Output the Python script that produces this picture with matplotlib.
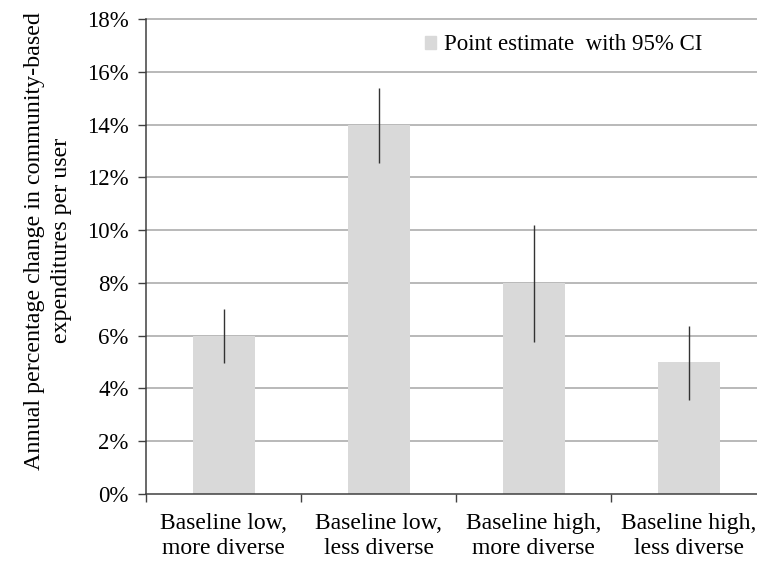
import matplotlib
matplotlib.use("Agg")
from matplotlib import pyplot as plt
from matplotlib.patches import Patch
from matplotlib.ticker import FuncFormatter, FixedLocator

# point estimates and 95% CI bounds (percent per year)
categories = ["Baseline low,\nmore diverse", "Baseline low,\nless diverse",
              "Baseline high,\nmore diverse", "Baseline high,\nless diverse"]
estimate = [6.0, 14.0, 8.0, 5.0]
ci_low = [4.95, 12.55, 5.75, 3.55]
ci_high = [7.0, 15.4, 10.2, 6.35]

plt.rcParams['font.family'] = ['Liberation Serif', 'DejaVu Serif']

fig = plt.figure(figsize=(7.57, 5.68), dpi=100)
# plot area runs slightly past the right edge of the figure
ax = fig.add_axes([146/757, 74/568, 620/757, 475/568])

xs = list(range(len(categories)))
ax.bar(xs, estimate, width=0.4, color="#d9d9d9", zorder=2)
ax.vlines(xs, ci_low, ci_high, color="#333333", linewidth=1.0, zorder=3)

ax.set_xlim(-0.5, 3.5)
ax.set_ylim(0, 18)
ax.set_yticks(range(0, 19, 2))
ax.yaxis.set_major_formatter(FuncFormatter(lambda v, p: "%d%%" % v))
for v in range(2, 19, 2):
    ax.axhline(v, color="#a6a6a6", linewidth=1.1, zorder=1, clip_on=False)

ax.set_xticks(xs)
ax.set_xticklabels(categories, fontsize=17, linespacing=1.25)
ax.xaxis.set_minor_locator(FixedLocator([-0.5, 0.5, 1.5, 2.5]))
ax.tick_params(axis="x", which="major", length=0, pad=14)
ax.tick_params(axis="x", which="minor", length=6, width=1.0, color="#404040")
ax.tick_params(axis="y", length=6, width=1.0, color="#404040", labelsize=16.5, pad=6.5)

for side in ("top", "right"):
    ax.spines[side].set_visible(False)
for side in ("left", "bottom"):
    ax.spines[side].set_color("#404040")
    ax.spines[side].set_linewidth(1.1)

ax.set_ylabel("Annual percentage change in community-based\nexpenditures per user",
              fontsize=17.3, linespacing=1.35)
ax.yaxis.set_label_coords(-0.12, 0.533)

fig.legend(handles=[Patch(color="#d9d9d9", label="Point estimate  with 95% CI")],
           loc="center left", bbox_to_anchor=(425/757, 1 - 45/568),
           frameon=False, fontsize=16.5, handlelength=0.5, handleheight=0.5,
           handletextpad=0.35, borderpad=0, borderaxespad=0)

fig.savefig("out.png", dpi=100)
